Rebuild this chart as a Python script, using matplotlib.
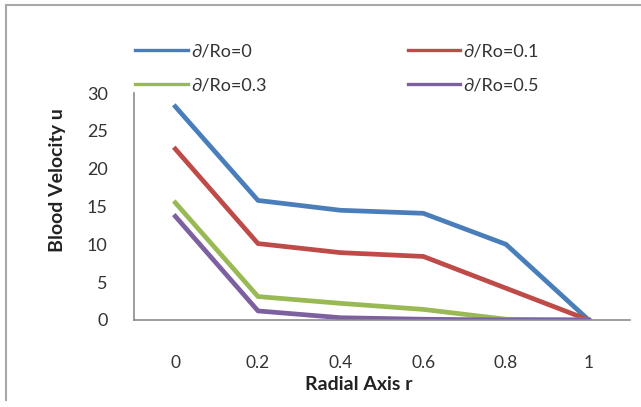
import matplotlib.pyplot as plt
from matplotlib.lines import Line2D

plt.rcParams["font.family"] = ["Lato", "DejaVu Sans"]

r_labels = ["0", "0.2", "0.4", "0.6", "0.8", "1"]
u_r0 = [28.2, 15.8, 14.5, 14.1, 10.0, 0.0]
u_r01 = [22.6, 10.1, 8.9, 8.4, 4.2, 0.0]
u_r03 = [15.5, 3.1, 2.2, 1.4, 0.1, 0.0]
u_r05 = [13.7, 1.2, 0.3, 0.1, 0.0, 0.0]
series_names = ["\u2202/Ro=0", "\u2202/Ro=0.1", "\u2202/Ro=0.3", "\u2202/Ro=0.5"]
colors = ["#4A7EBB", "#BE4B48", "#98B954", "#7D60A0"]

W, H = 641, 407
fig = plt.figure(figsize=(W / 100, H / 100), dpi=100)
ax = fig.add_axes([134 / W, 1 - 320 / H, (630 - 134) / W, (320 - 93) / H])

x = list(range(len(r_labels)))
lines = []
for vals, name, c in zip([u_r0, u_r01, u_r03, u_r05], series_names, colors):
    ln, = ax.plot(x, vals, color=c, lw=3.4, label=name, solid_joinstyle="round")
    lines.append(ln)

ax.set_xlim(-0.5, len(r_labels) - 0.5)
ax.set_ylim(0, 30)
ax.set_yticks(range(0, 31, 5))
ax.set_xticks(x)
ax.set_xticklabels(r_labels)
ax.tick_params(axis="y", length=0, pad=19, labelsize=13, labelcolor="#333333")
ax.tick_params(axis="x", length=0, pad=25, labelsize=12.5, labelcolor="#333333")
for s in ["top", "right"]:
    ax.spines[s].set_visible(False)
for s in ["left", "bottom"]:
    ax.spines[s].set_color("#8c8c8c")
    ax.spines[s].set_linewidth(1.2)

fig.text(359 / W, 1 - 385 / H, "Radial Axis r", ha="center", va="center",
         fontsize=14, fontweight="bold", color="#222222")
fig.text(57 / W, 1 - 180 / H, "Blood Velocity u", ha="center", va="center",
         rotation=90, fontsize=14, fontweight="bold", color="#222222")

order = [0, 2, 1, 3]
leg = fig.legend([lines[i] for i in order], [series_names[i] for i in order],
                 ncol=2, loc="upper left", bbox_to_anchor=(128 / W, 1 - 36 / H),
                 frameon=False, fontsize=13, handlelength=2.9, handletextpad=0.2,
                 columnspacing=7.8, labelspacing=1.0, borderaxespad=0)
for t in leg.get_texts():
    t.set_color("#333333")
for h in leg.legend_handles:
    h.set_linewidth(2.4)

# outer chart border (top and left edges visible)
fig.add_artist(Line2D([6 / W, 1], [1 - 5 / H, 1 - 5 / H], color="#a8a8a8", lw=1.5))
fig.add_artist(Line2D([6 / W, 6 / W], [1 - 5 / H, 1 - 400 / H], color="#a8a8a8", lw=1.5))

fig.savefig("out.png", dpi=100)
